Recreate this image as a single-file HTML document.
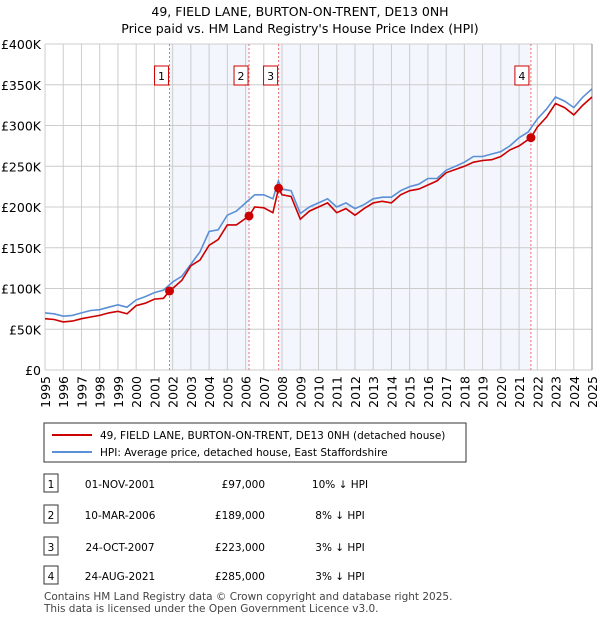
<!DOCTYPE html>
<html><head><meta charset="utf-8"><style>
body{margin:0;background:#fff;font-family:"Liberation Sans","DejaVu Sans",sans-serif;}
svg text{font-family:"DejaVu Sans","Liberation Sans",sans-serif;}
</style></head><body>
<svg id="c" width="600" height="620" xmlns="http://www.w3.org/2000/svg">
<text x="300" y="16" text-anchor="middle" font-size="12.5">49, FIELD LANE, BURTON-ON-TRENT, DE13 0NH</text>
<text x="300" y="33" text-anchor="middle" font-size="12.5">Price paid vs. HM Land Registry's House Price Index (HPI)</text>
<g id="plot"></g>
<g>
<rect x="44" y="423" width="422" height="39" fill="#fff" stroke="#333"/>
<line x1="52" y1="435" x2="92" y2="435" stroke="#cc0000" stroke-width="2"/>
<text x="100" y="439" font-size="10.5">49, FIELD LANE, BURTON-ON-TRENT, DE13 0NH (detached house)</text>
<line x1="52" y1="452" x2="92" y2="452" stroke="#5b8fd6" stroke-width="2"/>
<text x="100" y="456" font-size="10.5">HPI: Average price, detached house, East Staffordshire</text>
</g>
<g id="tbl"></g>
<text x="44" y="600" font-size="10.5" fill="#444">Contains HM Land Registry data © Crown copyright and database right 2025.</text>
<text x="44" y="612" font-size="10.5" fill="#444">This data is licensed under the Open Government Licence v3.0.</text>
</svg>
<script>
const hpiDates=[1995,1995.5,1996,1996.5,1997,1997.5,1998,1998.5,1999,1999.5,2000,2000.5,2001,2001.5,2002,2002.5,2003,2003.5,2004,2004.5,2005,2005.5,2006,2006.5,2007,2007.5,2007.8,2008,2008.5,2009,2009.5,2010,2010.5,2011,2011.5,2012,2012.5,2013,2013.5,2014,2014.5,2015,2015.5,2016,2016.5,2017,2017.5,2018,2018.5,2019,2019.5,2020,2020.5,2021,2021.5,2022,2022.5,2023,2023.5,2024,2024.5,2025];
const hpiValues=[70,69,66,67,70,73,74,77,80,77,86,90,95,98,108,115,130,145,170,172,190,195,205,215,215,210,232,222,220,192,200,205,210,200,205,198,203,210,212,212,220,225,228,235,235,245,250,255,262,262,265,268,275,285,292,308,320,335,330,322,335,345];
const priceDates=[1995,1995.5,1996,1996.5,1997,1997.5,1998,1998.5,1999,1999.5,2000,2000.5,2001,2001.5,2001.83,2002,2002.5,2003,2003.5,2004,2004.5,2005,2005.5,2006,2006.19,2006.5,2007,2007.5,2007.81,2008,2008.5,2009,2009.5,2010,2010.5,2011,2011.5,2012,2012.5,2013,2013.5,2014,2014.5,2015,2015.5,2016,2016.5,2017,2017.5,2018,2018.5,2019,2019.5,2020,2020.5,2021,2021.65,2022,2022.5,2023,2023.5,2024,2024.5,2025];
const priceValues=[63,62,59,60,63,65,67,70,72,69,79,82,87,88,97,100,110,128,135,153,160,178,178,186,189,200,199,193,223,215,213,185,195,200,205,193,198,190,198,205,207,205,215,220,222,227,232,242,246,250,255,257,258,262,270,275,285,298,310,327,322,313,325,335];
const saleDates=[2001.83,2006.19,2007.81,2021.65];
const salePrices=[97,189,223,285];
const saleLabels=["1","2","3","4"];
const saleDateText=["01-NOV-2001","10-MAR-2006","24-OCT-2007","24-AUG-2021"];
const salePriceText=["£97,000","£189,000","£223,000","£285,000"];
const saleHpiText=["10% ↓ HPI","8% ↓ HPI","3% ↓ HPI","3% ↓ HPI"];
const yTicks=[0,50,100,150,200,250,300,350,400];
const yTickLabels=["£0","£50K","£100K","£150K","£200K","£250K","£300K","£350K","£400K"];
const xTicks=[1995,1996,1997,1998,1999,2000,2001,2002,2003,2004,2005,2006,2007,2008,2009,2010,2011,2012,2013,2014,2015,2016,2017,2018,2019,2020,2021,2022,2023,2024,2025];

const NS="http://www.w3.org/2000/svg";
const X0=45,X1=592,Y0=370,Y1=44;
const xs=d=>X0+(d-1995)/30*(X1-X0);
const ys=v=>Y0-v/400*(Y0-Y1);
const plot=document.getElementById('plot');
function mk(tag,attrs,parent){const e=document.createElementNS(NS,tag);for(const k in attrs)e.setAttribute(k,attrs[k]);(parent||plot).appendChild(e);return e;}
[[0,1],[2,3]].forEach(([a,b])=>{
 const r=mk('rect',{x:xs(saleDates[a]),y:Y1,width:xs(saleDates[b])-xs(saleDates[a]),height:Y0-Y1,fill:'#f3f6fd'});
 
 
});
yTicks.forEach((t,i)=>{
 const l=mk('line',{x1:X0,x2:X1,y1:ys(t),y2:ys(t),stroke:'#ccc'});
 
 
 const tx=mk('text',{x:X0-4,y:ys(t)+5,'text-anchor':'end','font-size':12.5});
 tx.textContent=yTickLabels[i];
 
 
});
xTicks.forEach(t=>{
 const l=mk('line',{x1:xs(t),x2:xs(t),y1:Y1,y2:Y0,stroke:'#ccc'});
 
 
 const tx=mk('text',{x:0,y:0,'text-anchor':'end','font-size':12.5,transform:`translate(${xs(t)+5},${Y0+6}) rotate(-90)`});
 tx.textContent=t;
 
 
});
const ax=mk('line',{x1:X1,x2:X1,y1:Y1,y2:Y0,stroke:'#888'});


saleDates.forEach((d,i)=>{
 const l=mk('line',{x1:xs(d),x2:xs(d),y1:Y1,y2:Y0,stroke:'#f07070','stroke-dasharray':'2,2'});
 
 
});
function path(ds,vs){return ds.map((d,i)=>(i?'L':'M')+xs(d).toFixed(1)+','+ys(vs[i]).toFixed(1)).join('');}
const hp=mk('path',{d:path(hpiDates,hpiValues),fill:'none',stroke:'#5b8fd6','stroke-width':1.6});


const pp=mk('path',{d:path(priceDates,priceValues),fill:'none',stroke:'#cc0000','stroke-width':1.6});


saleDates.forEach((d,i)=>{
 const c=mk('circle',{cx:xs(d),cy:ys(salePrices[i]),r:4.5,fill:'#cc0000'});
 
 
 const bx=xs(d)-(i==3?6:5)-10;
 const r=mk('rect',{x:bx,y:66,width:14,height:19,fill:'#fff',stroke:'#cc0000'});
 
 
 const t=mk('text',{x:bx+7,y:80,'text-anchor':'middle','font-size':11});
 t.textContent=saleLabels[i];
 
 
});
const tbl=document.getElementById('tbl');
const rowY=[484,515,547,576];
saleLabels.forEach((s,i)=>{
 const y=rowY[i];
 const r=mk('rect',{x:44,y:y-10,width:14,height:18,fill:'#fff',stroke:'#333'},tbl);
 
 
 const vals=[[51,'middle',s],[120,'middle',saleDateText[i]],[265,'end',salePriceText[i]],[340,'middle',saleHpiText[i]]];
 vals.forEach(([x,a,txt])=>{
  const t=mk('text',{x:x,y:y+4,'text-anchor':a,'font-size':10.5},tbl);
  t.textContent=txt;
  
  
 });
});
</script>
</body></html>
